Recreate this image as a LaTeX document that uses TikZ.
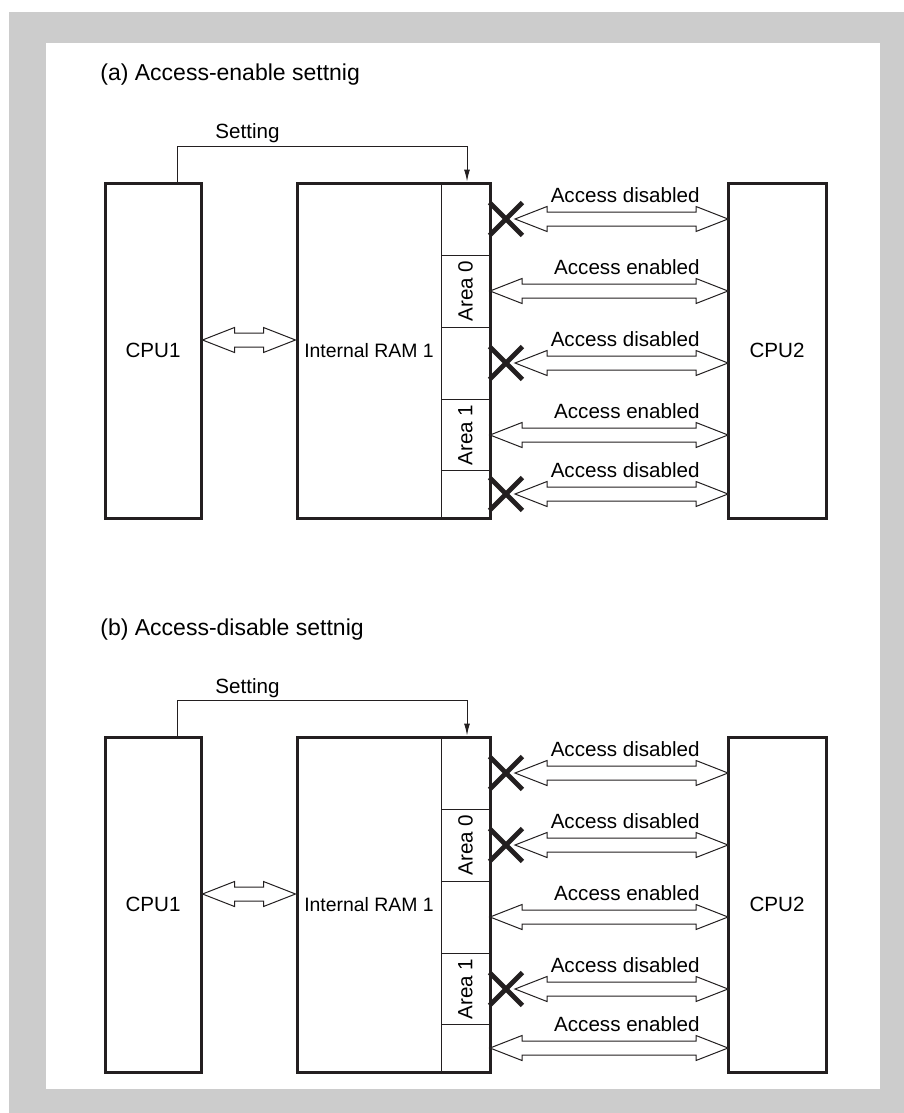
\documentclass[tikz,border=0pt]{standalone}
\usepackage{fontspec}
\setmainfont{Liberation Sans}
\usetikzlibrary{arrows.meta,calc,shapes.misc}
\definecolor{frame}{HTML}{CCCCCC}
\definecolor{ink}{HTML}{231F20}

\begin{document}
\begin{tikzpicture}[x=0.5pt,y=-0.5pt,>=Latex,font=\fontsize{10.3}{12}\selectfont,
 unit/.style={draw=ink,line width=1.5pt,minimum height=167.5pt,inner sep=0pt},
 thinline/.style={draw=ink,line width=0.5pt},
 xmark/.style={cross out,draw=ink,line width=2.4pt,minimum size=14pt,inner sep=0pt},
 lbl/.style={anchor=base east,inner sep=0pt},
 hollow/.style={draw=ink,fill=white,line width=0.5pt,
  to path={(\tikztostart) -- ++(16pt,6.25pt) -- ++(0,-2.75pt) -- ($(\tikztotarget)+(-16pt,3.5pt)$)
   -- ++(0,2.75pt) -- (\tikztotarget) -- ++(-16pt,-6.25pt) -- ++(0,2.75pt)
   -- ($(\tikztostart)+(16pt,-3.5pt)$) -- ++(0,-2.75pt) -- cycle}}]
\useasboundingbox (0,0) rectangle (904,1113);
\fill[frame] (9,12) rectangle (904,1113);
\fill[white] (46,43) rectangle (880,1089);
% two panels: (a) enable, (b) disable
\foreach \p/\dy/\mode/\rows in {a/0/enable/{219/d,291/e,363/d,435/e,494/d},
                                 b/-277/disable/{219/d,291/d,363/e,435/d,494/e}}{
\begin{scope}[yshift=\dy pt]
\node[anchor=base west,inner sep=0pt,font=\fontsize{11.5}{14}\selectfont] (title\p) at (100,81) {(\p) Access-\mode\ settnig};
\node[unit,minimum width=48pt] (cpu1\p) at (153,350.5) {CPU1};
\node[unit,minimum width=96.5pt] (ram\p) at (393.5,350.5) {};
\node[unit,minimum width=49pt] (cpu2\p) at (777,350.5) {CPU2};
\node[font=\fontsize{9.7}{12}\selectfont] (raml\p) at (369,351) {Internal RAM 1};
% area column
\draw[thinline] (441,183) -- (441,518);
\foreach \yy in {255,327,399,470} \draw[thinline] (441,\yy) -- (490,\yy);
\node[rotate=90] (area0\p) at (465.5,291) {Area 0};
\node[rotate=90] (area1\p) at (465.5,435) {Area 1};
% setting line
\draw[thinline,-{Latex[length=6pt,width=3pt]}] ($(cpu1\p.north)+(24,0)$) -- ++(0,-35) -| ($(ram\p.north)+(73.5,0)$);
\node[anchor=base west,inner sep=0pt] (set\p) at (215,139) {Setting};
% CPU1 <-> RAM
\coordinate (l\p) at (cpu1\p.east |- 0,340);
\coordinate (r\p) at (ram\p.west |- 0,340);
\draw[hollow] (l\p) to (r\p);
% RAM <-> CPU2
\foreach \ry/\s [count=\i] in \rows {
  \coordinate (t\p\i) at (728,\ry);
  \if\s d
    \node[xmark] (x\p\i) at (506,\ry) {};
    \coordinate (s\p\i) at (515,\ry);
    \draw[hollow] (s\p\i) to (t\p\i);
    \node[lbl] at (700,\ry-17) {Access disabled};
  \else
    \coordinate (s\p\i) at (490,\ry);
    \draw[hollow] (s\p\i) to (t\p\i);
    \node[lbl] at (700,\ry-17) {Access enabled};
  \fi
}
\end{scope}
}
\end{tikzpicture}
\end{document}
